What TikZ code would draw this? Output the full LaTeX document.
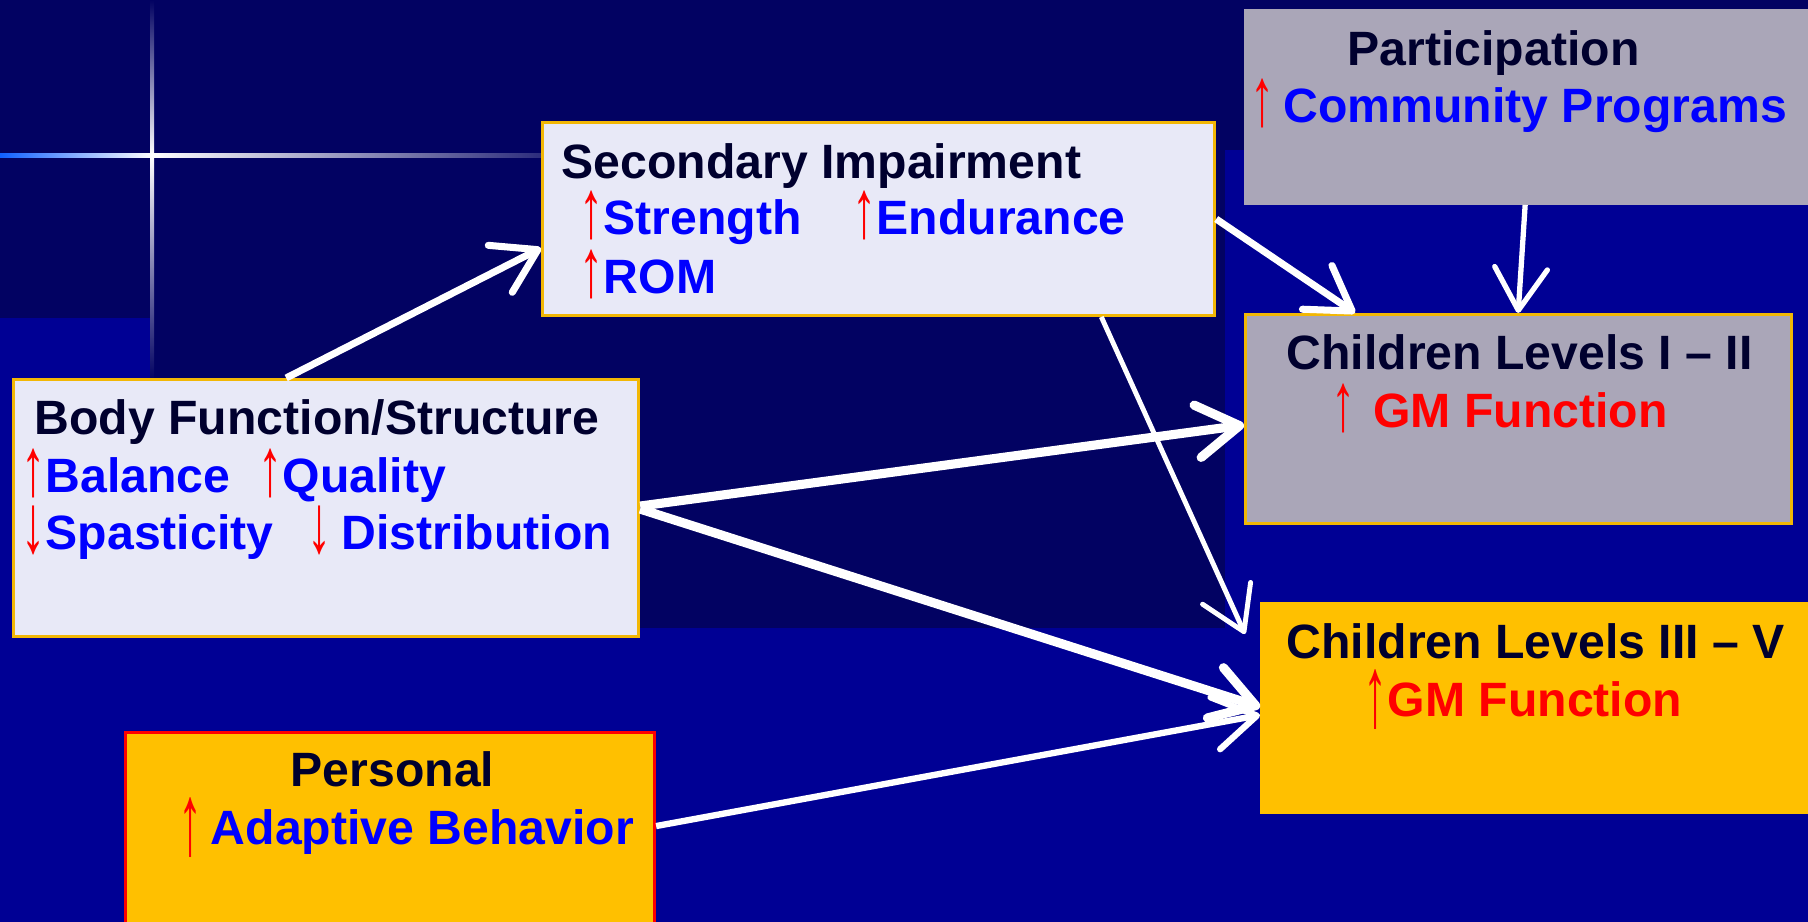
\documentclass[tikz,border=0pt]{standalone}
\usepackage{fontspec}
\setmainfont{Liberation Sans}
\usetikzlibrary{calc}
\usetikzlibrary{positioning}
\usetikzlibrary{arrows.meta}
\definecolor{bgdark}{HTML}{020262}
\definecolor{bgbright}{HTML}{000094}
\definecolor{flare}{HTML}{1060FF}
\definecolor{pale}{HTML}{E8E9F7}
\definecolor{gold}{HTML}{F2B705}
\definecolor{greybox}{HTML}{AAA6B8}
\definecolor{amber}{HTML}{FFC000}
\definecolor{ink}{HTML}{00002E}
\definecolor{wordblue}{HTML}{0000FF}
\tikzset{every picture/.style={/utils/exec={\bfseries}}}
\newcommand{\up}{{\color{red}\mdseries\raisebox{-0.06em}{\scalebox{1}[1.72]{↑}}}}
\newcommand{\dn}{{\color{red}\mdseries\raisebox{-0.06em}{\scalebox{1}[1.72]{↓}}}}
\newcommand{\uptall}{{\color{red}\mdseries\raisebox{-0.2em}{\scalebox{1}[2.1]{↑}}}}

\begin{document}
\begin{tikzpicture}[x=0.01cm, y=-0.01cm,
  box/.style={draw, line width=0.8pt, inner sep=0pt, anchor=north west},
  head/.style={font=\fontsize{13.7}{16}\selectfont, text=ink, inner sep=0pt, anchor=base west},
  item/.style={head, text=wordblue},
  wline/.style={draw=white, -{Straight Barb[length=12pt, width=15pt, round]}}]

  \useasboundingbox (0,0) rectangle (1808,922);
  \clip (0,0) rectangle (1808,922);

  % background
  \fill[bgbright] (0,0) rectangle (1808,922);
  \fill[bgdark] (0,0) rectangle (1808,150);
  \fill[bgdark] (0,150) rectangle (1225,318);
  \fill[bgdark] (152,318) rectangle (1225,628);
  \shade[top color=bgdark, bottom color=white] (150,0) rectangle (154,156);
  \shade[top color=white, bottom color=bgdark] (150,156) rectangle (154,380);
  \shade[left color=flare, right color=white] (0,154) rectangle (152,158);
  \shade[left color=white, right color=bgdark] (152,154) rectangle (620,158);

  % boxes
  \node[box, fill=pale, draw=gold, minimum width=6.72cm, minimum height=1.93cm] (sec) at (541,121) {};
  \node[box, fill=greybox, draw=greybox, minimum width=5.63cm, minimum height=1.93cm] (part) at (1244,9) {};
  \node[box, fill=greybox, draw=gold, minimum width=5.46cm, minimum height=2.09cm] (cl12) at (1244,313) {};
  \node[box, fill=pale, draw=gold, minimum width=6.25cm, minimum height=2.57cm] (body) at (12,378) {};
  \node[box, fill=amber, draw=amber, minimum width=5.47cm, minimum height=2.09cm] (cl35) at (1260,602) {};
  \node[box, fill=amber, draw=red, minimum width=5.29cm, minimum height=2.1cm] (pers) at (124,731) {};

  % texts
  \node[head] (sect) at (561,179) {Secondary Impairment};
  \node[item] (str) at (579,235) {\up Strength};
  \node[item] (end) at (852,235) {\up Endurance};
  \node[item] (rom) at (579,294) {\up ROM};

  \node[head] (partt) at (1347,66) {Participation};
  \node[item] (comm) at (1250,123) {\up\hspace{2.5pt}Community Programs};

  \node[head] (cl12t) at (1286,370) {Children Levels I – II};
  \node[item, text=red] (gm12) at (1331,428) {\up\hspace{5pt}GM Function};

  \node[head] (bodyt) at (34,435) {Body Function/Structure};
  \node[item] (bal) at (21,493) {\up Balance};
  \node[item] (qual) at (258,493) {\up Quality};
  \node[item] (spas) at (21,550) {\dn Spasticity};
  \node[item] (dist) at (307,550) {\dn\hspace{2.8pt}Distribution};

  \node[head] (cl35t) at (1286,659) {Children Levels III – V};
  \node[item, text=red] (gm35) at (1363,717) {\uptall GM Function};

  \node[head] (perst) at (290,787) {Personal};
  \node[item] (adap) at (178,845) {\uptall\hspace{2.3pt}Adaptive Behavior};

  % connectors
  \draw[wline, line width=2pt] ([xshift=2.74cm]body.north west) -- ([yshift=-1.27cm]sec.north west);
  \draw[wline, line width=2pt] ([yshift=-0.98cm]sec.north east) -- ([xshift=1.11cm]cl12.north west);
  \draw[wline, line width=1.5pt] ([xshift=2.81cm]part.south west) -- ([xshift=2.74cm]cl12.north west);
  \draw[wline, line width=1.4pt] ([xshift=5.6cm]sec.south west) -- ([shift={(-0.15cm,-0.32cm)}]cl35.north west);
  \draw[wline, line width=2.6pt] ([yshift=-1.28cm]body.north east) -- ([yshift=-1.12cm]cl12.north west);
  \draw[wline, line width=2.6pt] ([yshift=-1.31cm]body.north east) -- ([yshift=-1.05cm]cl35.north west);
  \draw[wline, line width=1.8pt] ([yshift=-0.95cm]pers.north east) -- ([yshift=-1.13cm]cl35.north west);
\end{tikzpicture}
\end{document}
